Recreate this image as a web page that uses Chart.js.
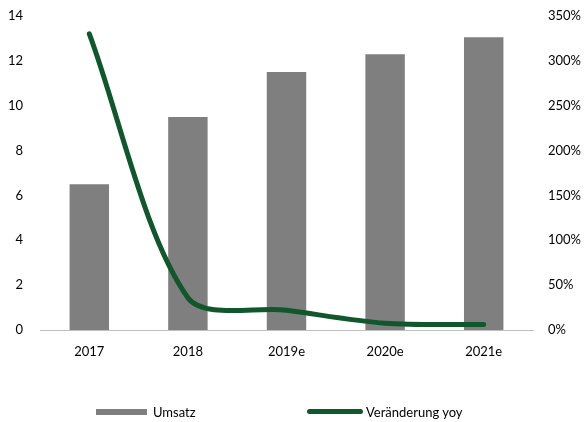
<!DOCTYPE html>
<html>
<head>
<meta charset="utf-8">
<script src="https://cdn.jsdelivr.net/npm/chart.js@4.4.1/dist/chart.umd.min.js"></script>
<style>
  html, body { margin: 0; padding: 0; background: #fff; }
  #wrap { position: relative; width: 585px; height: 422px; font-family: Lato, "Open Sans", sans-serif; }
  canvas { position: absolute; left: 0; top: 0; }
  .lg { position: absolute; font-size: 13px; color: #000; line-height: 16px; }
  .sw { position: absolute; }
</style>
</head>
<body>
<div id="wrap">
  <canvas id="c" width="585" height="422"></canvas>
  <div class="sw" style="left:96px; top:409px; width:51px; height:6px; background:#7f7f7f;"></div>
  <div class="lg" style="left:153px; top:404px;">Umsatz</div>
  <div class="sw" style="left:307px; top:409px; width:56px; height:5px; border-radius:3px; background:#11572c;"></div>
  <div class="lg" style="left:366px; top:404px;">Veränderung yoy</div>
</div>
<script>
const categories = ['2017', '2018', '2019e', '2020e', '2021e'];
const umsatz = [6.5, 9.5, 11.5, 12.3, 13.05];
const veraenderung = [330, 36, 22, 7.5, 6];
const leftTicks = [0, 2, 4, 6, 8, 10, 12, 14];
const rightTicks = [0, 50, 100, 150, 200, 250, 300, 350];

const font = { family: 'Lato, "Open Sans", sans-serif', size: 13 };

new Chart(document.getElementById('c'), {
  type: 'bar',
  data: {
    labels: categories,
    datasets: [
      {
        type: 'line',
        label: 'Veränderung yoy',
        data: veraenderung,
        yAxisID: 'y1',
        borderColor: '#11572c',
        borderWidth: 5,
        borderCapStyle: 'round',
        pointRadius: 0,
        tension: 0.3,
        fill: false,
        order: 0
      },
      {
        type: 'bar',
        label: 'Umsatz',
        data: umsatz,
        yAxisID: 'y',
        backgroundColor: '#7f7f7f',
        barPercentage: 0.4,
        categoryPercentage: 1.0,
        order: 1
      }
    ]
  },
  options: {
    responsive: false,
    animation: false,
    layout: { padding: { top: 16, bottom: 0, left: 0, right: 0 } },
    plugins: { legend: { display: false }, tooltip: { enabled: false } },
    scales: {
      x: {
        grid: { display: false, drawTicks: false },
        border: { display: true, color: '#bfbfbf', width: 1 },
        ticks: { color: '#000', font: font, padding: 14 },
        afterFit: (s) => { s.height = 92; s.paddingLeft = 0; s.paddingRight = 0; }
      },
      y: {
        position: 'left',
        min: 0, max: 14,
        grid: { display: false, drawTicks: false },
        border: { display: false },
        afterBuildTicks: (s) => { s.ticks = leftTicks.map(v => ({ value: v })); },
        ticks: { color: '#000', font: font, padding: 17 },
        afterFit: (s) => { s.width = 40; s.paddingTop = 0; s.paddingBottom = 0; }
      },
      y1: {
        position: 'right',
        min: 0, max: 350,
        grid: { display: false, drawTicks: false },
        border: { display: false },
        afterBuildTicks: (s) => { s.ticks = rightTicks.map(v => ({ value: v })); },
        ticks: { color: '#000', font: font, padding: 15, callback: (v) => v + '%' },
        afterFit: (s) => { s.width = 52; s.paddingTop = 0; s.paddingBottom = 0; }
      }
    }
  }
});
</script>
</body>
</html>
